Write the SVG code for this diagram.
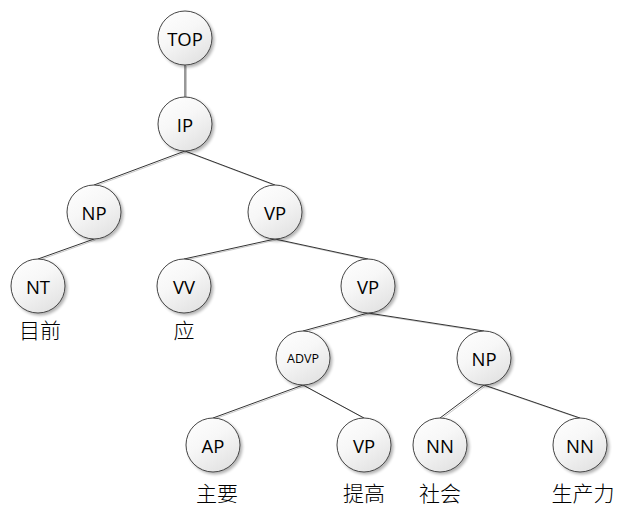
<svg xmlns="http://www.w3.org/2000/svg" width="618" height="507" viewBox="0 0 618 507">
<defs>
<linearGradient id="g" x1="0" y1="0" x2="0.6" y2="1">
<stop offset="0" stop-color="#ffffff"/>
<stop offset="0.5" stop-color="#f7f7f7"/>
<stop offset="1" stop-color="#e4e4e4"/>
</linearGradient>
<filter id="sh" x="-30%" y="-30%" width="160%" height="160%">
<feGaussianBlur in="SourceAlpha" stdDeviation="1.5"/>
<feOffset dx="2" dy="2" result="b"/>
<feComponentTransfer><feFuncA type="linear" slope="0.3"/></feComponentTransfer>
<feMerge><feMergeNode/><feMergeNode in="SourceGraphic"/></feMerge>
</filter>
</defs>
<style>
.n{fill:url(#g);stroke:#444;stroke-width:1;filter:url(#sh)}
.t{font-family:"Open Sans","Liberation Sans",sans-serif;font-size:18.5px;fill:#000;text-anchor:middle;dominant-baseline:central}
.s{font-size:12.5px}
.w{font-family:"Noto Sans CJK SC","Noto Sans CJK TC",sans-serif;font-size:21px;font-weight:300;fill:#000;text-anchor:middle}
.e{stroke:#333;stroke-width:1;fill:none}
.es{stroke:#c8c8c8;stroke-width:1;fill:none}
</style>
<g id="connectors">
<g transform="translate(1.5,1)">
<path class="es" d="M185 65V97M185 151L94 185M185 151L275 185M94 239L38 259M275 239L184 259M275 239L368 259M368 313L303 331M368 313L484 331M303 385L213 418M303 385L364 418M484 385L440 418M484 385L580 418"/>
</g>
<path class="e" d="M185 65V97M185 151L94 185M185 151L275 185M94 239L38 259M275 239L184 259M275 239L368 259M368 313L303 331M368 313L484 331M303 385L213 418M303 385L364 418M484 385L440 418M484 385L580 418"/>
</g>
<g id="TOP"><circle class="n" cx="185" cy="38" r="27"/><text class="t" x="185" y="38">TOP</text></g>
<g id="IP"><circle class="n" cx="185" cy="124" r="27"/><text class="t" x="185" y="124">IP</text></g>
<g id="NP1"><circle class="n" cx="94" cy="212" r="27"/><text class="t" x="94" y="212">NP</text></g>
<g id="VP1"><circle class="n" cx="275" cy="212" r="27"/><text class="t" x="275" y="212">VP</text></g>
<g id="NT"><circle class="n" cx="38" cy="286" r="27"/><text class="t" x="38" y="286">NT</text></g>
<g id="VV"><circle class="n" cx="184" cy="286" r="27"/><text class="t" x="184" y="286">VV</text></g>
<g id="VP2"><circle class="n" cx="368" cy="286" r="27"/><text class="t" x="368" y="286">VP</text></g>
<g id="ADVP"><circle class="n" cx="303" cy="358" r="27"/><text class="t s" x="303" y="358">ADVP</text></g>
<g id="NP2"><circle class="n" cx="484" cy="358" r="27"/><text class="t" x="484" y="358">NP</text></g>
<g id="AP"><circle class="n" cx="213" cy="445" r="27"/><text class="t" x="213" y="445">AP</text></g>
<g id="VP3"><circle class="n" cx="364" cy="445" r="27"/><text class="t" x="364" y="445">VP</text></g>
<g id="NN1"><circle class="n" cx="440" cy="445" r="27"/><text class="t" x="440" y="445">NN</text></g>
<g id="NN2"><circle class="n" cx="580" cy="445" r="27"/><text class="t" x="580" y="445">NN</text></g>
<g id="words">
<text class="w" x="40" y="338">目前</text>
<text class="w" x="184" y="338">应</text>
<text class="w" x="217" y="501">主要</text>
<text class="w" x="364" y="501">提高</text>
<text class="w" x="440" y="501">社会</text>
<text class="w" x="583" y="501">生产力</text>
</g>
</svg>
